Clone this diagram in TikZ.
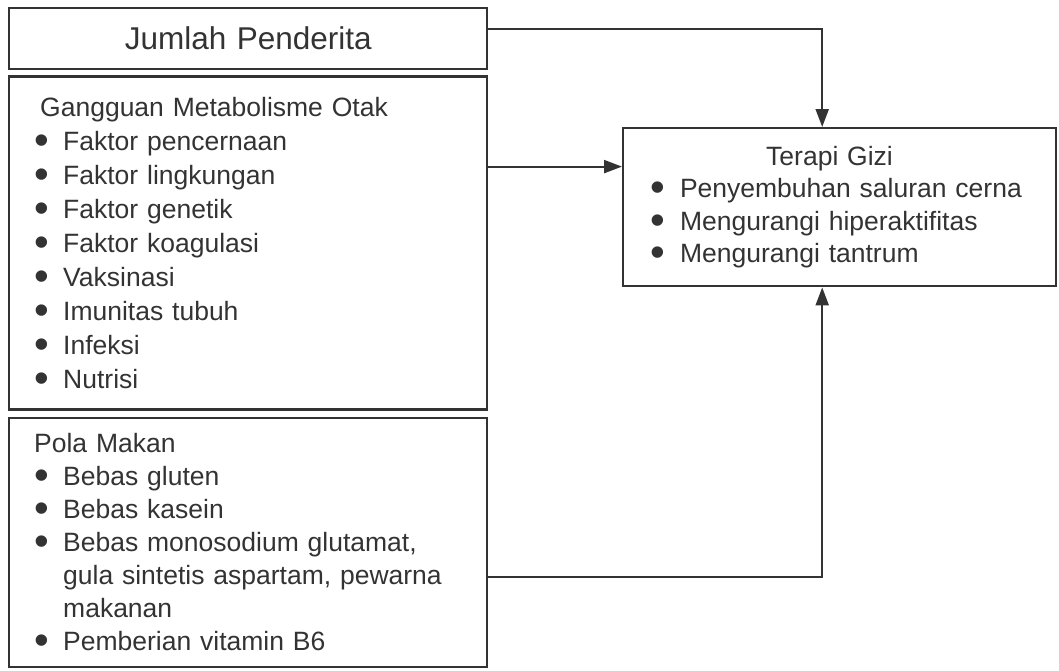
\documentclass[tikz,border=0pt]{standalone}
\usepackage{fontspec}
\setmainfont{Liberation Sans}
\usetikzlibrary{arrows.meta,positioning}

\definecolor{ink}{HTML}{333333}
% bullet in front of a list line
\newcommand{\itm}[1][14.5pt]{\makebox[#1][l]{\smash{\raisebox{-2pt}{\fontsize{21}{21}\selectfont\textbullet}}}}

\begin{document}
\begin{tikzpicture}[
    x=0.5pt, y=-0.5pt,
    box/.style={draw=ink, line width=1.2pt, text=ink, align=left, text width=214pt, inner xsep=12.5pt, font=\fontsize{13.25}{17}\selectfont},
    arrow/.style={draw=ink, line width=1.1pt, -{Triangle[length=9pt,width=6.5pt]}},
]
    \useasboundingbox (0,0) rectangle (1059,670);

    \node[box, anchor=north west, minimum height=30.5pt, align=center, font=\fontsize{15.75}{19}\selectfont] (jumlah) at (8,7) {Jumlah Penderita};
    \node[box, below=2.5pt of jumlah, minimum height=166.5pt] (gangguan) {\hspace*{3pt}Gangguan Metabolisme Otak\\
        \itm Faktor pencernaan\\
        \itm Faktor lingkungan\\
        \itm Faktor genetik\\
        \itm Faktor koagulasi\\
        \itm Vaksinasi\\
        \itm Imunitas tubuh\\
        \itm Infeksi\\
        \itm Nutrisi};
    \node[box, below=2.9pt of gangguan, minimum height=124.5pt, font=\fontsize{13.25}{16.5}\selectfont] (pola) {Pola Makan\\
        \itm Bebas gluten\\
        \itm Bebas kasein\\
        \itm Bebas monosodium glutamat,\\
        \hspace*{14.5pt}gula sintetis aspartam, pewarna\\
        \hspace*{14.5pt}makanan\\
        \itm Pemberian vitamin B6};

    \node[box, anchor=north west, text width=189.5pt, inner xsep=13.5pt, minimum height=79pt, font=\fontsize{13.25}{16.25}\selectfont] (terapi) at (622,127) {\hspace*{58pt}Terapi Gizi\\
        \itm[10.5pt] Penyembuhan saluran cerna\\
        \itm[10.5pt] Mengurangi hiperaktifitas\\
        \itm[10.5pt] Mengurangi tantrum};

    \draw[arrow] ([yshift=4.75pt]jumlah.east) -| ([xshift=-8.75pt]terapi.north);
    \draw[arrow] ([yshift=38.25pt]gangguan.east) -- ([yshift=38.25pt]gangguan.east -| terapi.west);
    \draw[arrow] ([yshift=-17.25pt]pola.east) -| ([xshift=-8.75pt]terapi.south);
\end{tikzpicture}
\end{document}
